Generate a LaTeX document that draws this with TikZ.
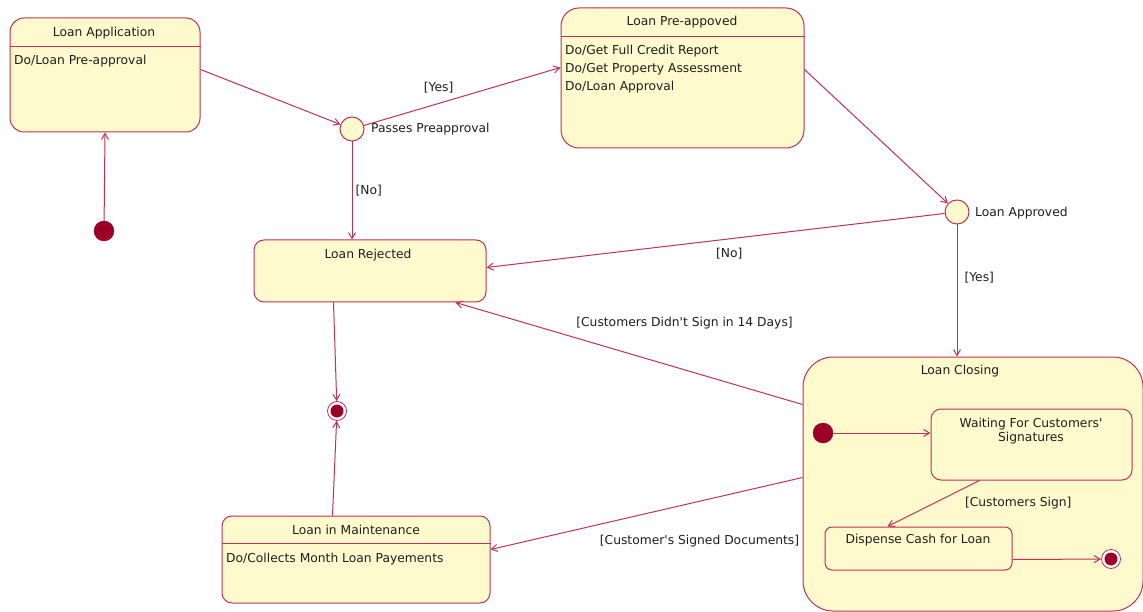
\documentclass[tikz,border=0pt]{standalone}
\usepackage{fontspec}
\newfontfamily\lblfont{DejaVu Sans}
\usetikzlibrary{arrows.meta,calc}
\definecolor{fillc}{RGB}{255,250,206}
\definecolor{linec}{RGB}{190,50,85}
\definecolor{dotc}{RGB}{155,0,40}
\definecolor{txtc}{RGB}{30,30,30}
\tikzset{
  statebox/.style={draw=linec, fill=fillc, line width=1pt, rounded corners=14pt, inner sep=0pt},
  choice/.style={circle, draw=linec, fill=fillc, line width=1pt, minimum size=24pt, inner sep=0pt},
  initdot/.style={circle, fill=dotc, draw=dotc, minimum size=20pt, inner sep=0pt},
  finring/.style={circle, draw=linec, fill=white, line width=0.8pt, minimum size=19pt, inner sep=0pt},
  findot/.style={circle, fill=dotc, minimum size=13pt, inner sep=0pt},
  arr/.style={draw=linec, line width=1pt, -{Straight Barb[length=6pt,width=7pt]}},
  sep/.style={draw=linec, line width=1pt},
  lbl/.style={font=\lblfont\fontsize{12.3}{14}\selectfont, text=txtc, inner sep=1pt},
}
\begin{document}
\begin{tikzpicture}[x=1pt,y=-1pt]
\useasboundingbox[fill=white] (0,0) rectangle (1143,612);

% boxes
\node[statebox, minimum width=190pt, minimum height=114pt] (app) at (105,75) {};
\node[statebox, minimum width=243pt, minimum height=140pt, rounded corners=18pt] (pre) at (682.5,78) {};
\node[statebox, minimum width=232pt, minimum height=62pt, rounded corners=10pt] (rej) at (370,271) {};
\node[statebox, minimum width=268pt, minimum height=87pt, rounded corners=10pt] (maint) at (356,559.5) {};
\node[statebox, minimum width=340pt, minimum height=254pt, rounded corners=30pt] (clos) at (973,484) {};
\node[statebox, minimum width=201pt, minimum height=71pt, rounded corners=10pt] (wait) at (1031.5,444.5) {};
\node[statebox, minimum width=187pt, minimum height=43pt, rounded corners=7pt] (disp) at (918.5,548.5) {};

% compartments
\draw[sep] ([yshift=-29pt]app.north west) -- ([yshift=-29pt]app.north east);
\draw[sep] ([yshift=-29pt]pre.north west) -- ([yshift=-29pt]pre.north east);
\draw[sep] ([yshift=-28pt]maint.north west) -- ([yshift=-28pt]maint.north east);

% texts
\node[lbl] (appt) at (104,33) {Loan Application};
\node[lbl, anchor=west] (appd) at (13,61) {Do/Loan Pre-approval};
\node[lbl] (pret) at (682,22) {Loan Pre-appoved};
\node[lbl, anchor=west] (pred1) at (564,51) {Do/Get Full Credit Report};
\node[lbl, anchor=west] (pred2) at (564,69) {Do/Get Property Assessment};
\node[lbl, anchor=west] (pred3) at (564,87) {Do/Loan Approval};
\node[lbl] (rejt) at (368,255) {Loan Rejected};
\node[lbl] (maintt) at (356,530) {Loan in Maintenance};
\node[lbl, anchor=west] (maintd) at (225,559) {Do/Collects Month Loan Payements};
\node[lbl] (clost) at (960,371) {Loan Closing};
\node[lbl, align=center] (waitt) at (1031,431.5) {Waiting For Customers'\\Signatures};
\node[lbl] (dispt) at (918,540) {Dispense Cash for Loan};

% pseudo states
\node[initdot] (init) at (104,231) {};
\node[choice] (dec1) at (352,129) {};
\node[lbl, anchor=west] (dec1l) at (370,129) {Passes Preapproval};
\node[choice] (dec2) at (957,212) {};
\node[lbl, anchor=west] (dec2l) at (974,213) {Loan Approved};
\node[finring] (fin1) at (337,411) {};
\node[findot] (fin1d) at (337,411) {};
\node[initdot] (init2) at (823,433) {};
\node[finring] (fin2) at (1111,559) {};
\node[findot] (fin2d) at (1111,559) {};

% connectors
\draw[arr] (init) -- (app.south);
\draw[arr] ([yshift=-52pt]app.north east) -- (dec1);
\draw[arr] (dec1) -- ([yshift=-60pt]pre.north west)
  node[lbl, pos=0.38, above=9pt] {[Yes]};
\draw[arr] (dec1) -- (dec1 |- rej.north)
  node[lbl, pos=0.5, right=2pt] {[No]};
\draw[arr] ([yshift=-62pt]pre.north east) -- (dec2);
\draw[arr] (dec2) -- ([yshift=-28pt]rej.north east)
  node[lbl, pos=0.47, below=8pt] {[No]};
\draw[arr] (dec2) -- (dec2 |- clos.north)
  node[lbl, pos=0.4, right=6pt] {[Yes]};
\draw[arr] ([yshift=-48pt]clos.north west) -- ([xshift=-31pt]rej.south east)
  node[lbl, pos=0.34, yshift=47pt] {[Customers Didn't Sign in 14 Days]};
\draw[arr] ([yshift=-121pt]clos.north west) -- ([yshift=-34pt]maint.north east)
  node[lbl, pos=0.33, yshift=-40pt] {[Customer's Signed Documents]};
\draw[arr] ([xshift=80pt]rej.south west) -- (fin1);
\draw[arr] ([xshift=111pt]maint.north west) -- (fin1);
\draw[arr] (init2) -- (init2 -| wait.west);
\draw[arr] ([xshift=49pt]wait.south west) -- ([xshift=63pt]disp.north west)
  node[lbl, pos=0.5, anchor=west, xshift=30pt] {[Customers Sign]};
\draw[arr] ([yshift=11pt]disp.south east) -- (fin2);
\end{tikzpicture}
\end{document}
